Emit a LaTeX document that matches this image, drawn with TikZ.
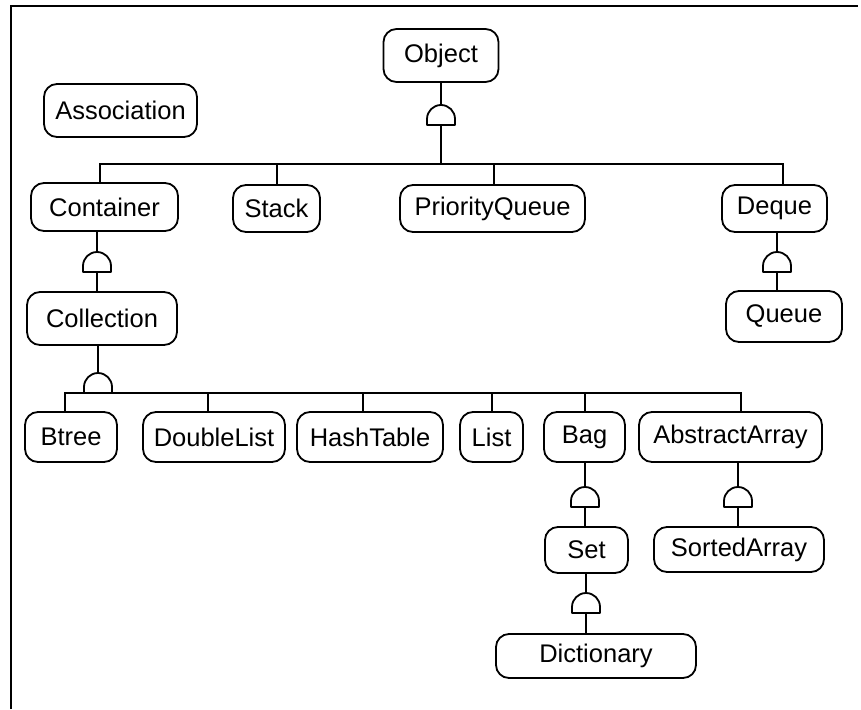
\documentclass[tikz,border=0pt]{standalone}
\usepackage{fontspec}
\setmainfont{Liberation Sans}
\begin{document}
\begin{tikzpicture}[x=1pt,y=-1pt,
  cls/.style={draw, line width=1.8pt, rounded corners=13pt, inner sep=0pt,
    font=\fontsize{25.5}{30}\selectfont},
  link/.style={line width=1.9pt, line join=miter},
  gate/.pic={\draw[line width=1.8pt, fill=white, line join=round]
    (-14pt,0pt) -- (-14pt,6pt) arc[start angle=180,end angle=0,radius=14pt] -- (14pt,0pt) -- cycle;}
]
\useasboundingbox (0,0) rectangle (861,709);

% open frame: left and top edges only
\draw[line width=2.2pt, line join=miter] (11,709) -- (11,6) -- (858,6);

% classes
\node[cls, minimum width=115pt, minimum height=53pt] (Object) at (441,55.5) {Object};
\node[cls, minimum width=153pt, minimum height=53pt] (Association) at (120.5,110.5) {Association};

\node[cls, minimum width=147pt, minimum height=48pt] (Container) at (104.5,207) {Container};
\node[cls, minimum width=87pt, minimum height=47pt] (Stack) at (276.5,208.5) {Stack};
\node[cls, minimum width=185pt, minimum height=47pt] (PriorityQueue) at (492.5,208.5) {PriorityQueue};
\node[cls, minimum width=105pt, minimum height=47pt] (Deque) at (774.5,208.5) {Deque};

\node[cls, minimum width=150pt, minimum height=53pt] (Collection) at (102,318.5) {Collection};
\node[cls, minimum width=116pt, minimum height=51pt] (Queue) at (784,316.5) {Queue};

\node[cls, minimum width=92pt, minimum height=50pt] (Btree) at (71,437) {Btree};
\node[cls, minimum width=142pt, minimum height=50pt] (DoubleList) at (214,437) {DoubleList};
\node[cls, minimum width=146pt, minimum height=50pt] (HashTable) at (370,437) {HashTable};
\node[cls, minimum width=63pt, minimum height=50pt] (List) at (491.5,437) {List};
\node[cls, minimum width=81pt, minimum height=50pt] (Bag) at (584.5,437) {Bag};
\node[cls, minimum width=183pt, minimum height=50pt] (AbstractArray) at (730.5,437) {AbstractArray};

\node[cls, minimum width=83pt, minimum height=46pt] (Set) at (586.5,550) {Set};
\node[cls, minimum width=170pt, minimum height=45pt] (SortedArray) at (739,549.5) {SortedArray};
\node[cls, minimum width=200pt, minimum height=44pt] (Dictionary) at (596,656) {Dictionary};

% bus levels and inheritance marks
\coordinate (busTop) at (0,164);
\coordinate (busCol) at (0,393);
\coordinate (gObj) at (441,125);
\coordinate (gCon) at (97,272);
\coordinate (gCol) at (98,393);
\coordinate (gDeq) at (777,272);
\coordinate (gBag) at (585,507);
\coordinate (gSet) at (586,613);
\coordinate (gArr) at (738,507);

% Object and its subclasses
\draw[link] (Object.south -| gObj) -- (gObj) -- (gObj |- busTop);
\draw[link] ([xshift=-4.5pt]Container.north) |- ([xshift=8.5pt]Deque.north |- busTop)
  -- ([xshift=8.5pt]Deque.north);
\draw[link] ([xshift=0.5pt]Stack.north) -- ([xshift=0.5pt]Stack.north |- busTop);
\draw[link] ([xshift=1.5pt]PriorityQueue.north) -- ([xshift=1.5pt]PriorityQueue.north |- busTop);
\pic at (gObj) {gate};

% Container -> Collection
\draw[link] (Container.south -| gCon) -- (gCon) -- (Collection.north -| gCon);
\pic at (gCon) {gate};

% Deque -> Queue
\draw[link] (Deque.south -| gDeq) -- (gDeq) -- (Queue.north -| gDeq);
\pic at (gDeq) {gate};

% Collection and its subclasses
\draw[link] (Collection.south -| gCol) -- (gCol);
\draw[link] ([xshift=-6pt]Btree.north) |- ([xshift=10.5pt]AbstractArray.north |- busCol)
  -- ([xshift=10.5pt]AbstractArray.north);
\draw[link] ([xshift=-6pt]DoubleList.north) -- ([xshift=-6pt]DoubleList.north |- busCol);
\draw[link] ([xshift=-7pt]HashTable.north) -- ([xshift=-7pt]HashTable.north |- busCol);
\draw[link] ([xshift=0.5pt]List.north) -- ([xshift=0.5pt]List.north |- busCol);
\draw[link] ([xshift=0.5pt]Bag.north) -- ([xshift=0.5pt]Bag.north |- busCol);
\pic at (gCol) {gate};

% Bag -> Set -> Dictionary
\draw[link] (Bag.south -| gBag) -- (gBag) -- (Set.north -| gBag);
\pic at (gBag) {gate};
\draw[link] (Set.south -| gSet) -- (gSet) -- (Dictionary.north -| gSet);
\pic at (gSet) {gate};

% AbstractArray -> SortedArray
\draw[link] (AbstractArray.south -| gArr) -- (gArr) -- (SortedArray.north -| gArr);
\pic at (gArr) {gate};
\end{tikzpicture}
\end{document}
